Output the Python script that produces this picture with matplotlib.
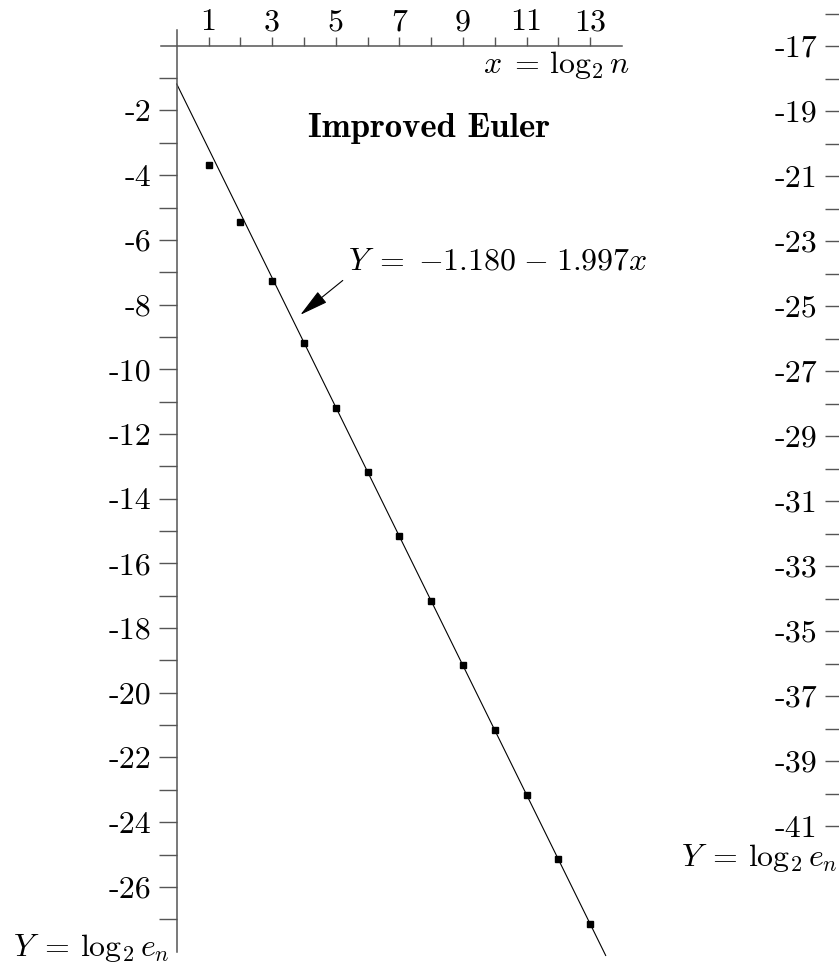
import matplotlib
matplotlib.use('Agg')
import matplotlib.pyplot as plt

# measured error data, Improved Euler
x_vals = [1, 2, 3, 4, 5, 6, 7, 8, 9, 10, 11, 12, 13]
Y_vals = [-3.70, -5.44, -7.28, -9.20, -11.19, -13.18, -15.14, -17.16,
          -19.14, -21.15, -23.17, -25.15, -27.16]

# least squares fit  Y = a + b x
fit_a = -1.180
fit_b = -1.997
fit_x = [0, 13.49]

x_ticks = list(range(1, 14))
x_labels = [str(t) if t % 2 else '' for t in x_ticks]
y_ticks = list(range(-1, -28, -1))
y_labels = [str(t) if t % 2 == 0 else '' for t in y_ticks]

# second panel (only its axis shows at the right edge)
y2_ticks = list(range(-16, -42, -1))
y2_labels = [str(t) if t % 2 else '' for t in y2_ticks]

plt.rcParams['font.family'] = 'serif'
plt.rcParams['font.serif'] = ['cmr10']
plt.rcParams['mathtext.fontset'] = 'cm'

FS = 23
AXC = '#555555'
W, H = 839, 968
fig = plt.figure(figsize=(W / 100, H / 100), dpi=100)

## left panel ################################################################
ax = fig.add_axes([160.8 / W, 1 - 951.6 / H, 461.1 / W, 922 / H])
ax.set_xlim(-0.5, 14)
ax.set_ylim(-28, 0.5)
ax.patch.set_visible(False)
for s in ['bottom', 'right']:
    ax.spines[s].set_visible(False)
ax.spines['top'].set_position(('data', 0))
ax.spines['left'].set_position(('data', 0))
for s in ['top', 'left']:
    ax.spines[s].set_color(AXC)
    ax.spines[s].set_linewidth(1.1)
ax.xaxis.set_ticks_position('top')
ax.set_xticks(x_ticks)
ax.set_xticklabels(x_labels, fontsize=FS)
ax.set_yticks(y_ticks)
ax.set_yticklabels(y_labels, fontsize=FS)
ax.tick_params(axis='x', direction='out', length=6.5, width=1.0, color=AXC, pad=0.5)
ax.tick_params(axis='y', direction='out', length=13, width=1.0, color=AXC, pad=5.5)

fx = [fit_x[0], fit_x[1]]
fy = [fit_a + fit_b * v for v in fx]
ax.plot(fx, fy, color='black', lw=0.8, clip_on=False)
ax.plot(x_vals, Y_vals, 's', color='black', ms=5, clip_on=False)

ax.text(7.93, -2.55, 'Improved Euler', fontsize=FS + 2, fontfamily='cmb10',
        ha='center', va='center')
ax.text(5.4, -6.93, r'$Y\;=\;{-}1.180\;{-}\;1.997x$', fontsize=FS,
        ha='left', va='baseline')
ax.annotate('', xy=(3.82, -8.37), xytext=(5.29, -7.2),
            arrowprops=dict(arrowstyle='-|>,head_length=0.9,head_width=0.22',
                            color='black', lw=0.8, mutation_scale=20))

ax.annotate(r'$x\;=\,\log_2 n$', xy=(14, 0), xytext=(6, -14),
            textcoords='offset points', fontsize=FS, ha='right', va='center')
ax.annotate(r'$Y\;=\,\log_2 e_n$', xy=(0, -27.9), xytext=(-5, 0),
            textcoords='offset points', fontsize=FS, ha='right', va='center')

## right panel, cut by the page edge ########################################
ax2 = fig.add_axes([843 / W, 1 - 849 / H, 0.2, 884 / H])
ax2.set_ylim(-41.7, -14.5)
ax2.set_xlim(0, 1)
ax2.patch.set_visible(False)
for s in ['top', 'bottom', 'right']:
    ax2.spines[s].set_visible(False)
ax2.spines['left'].set_color(AXC)
ax2.set_xticks([])
ax2.set_yticks(y2_ticks)
ax2.set_yticklabels(y2_labels, fontsize=FS)
ax2.tick_params(axis='y', direction='out', length=13, width=1.0, color=AXC, pad=5.5)
ax2.annotate(r'$Y\;=\,\log_2 e_n$', xy=(0, -41.75), xycoords=ax2.get_yaxis_transform(),
             xytext=(-4, -5), textcoords='offset points', fontsize=FS,
             ha='right', va='center')

fig.savefig('out.png', dpi=100)
